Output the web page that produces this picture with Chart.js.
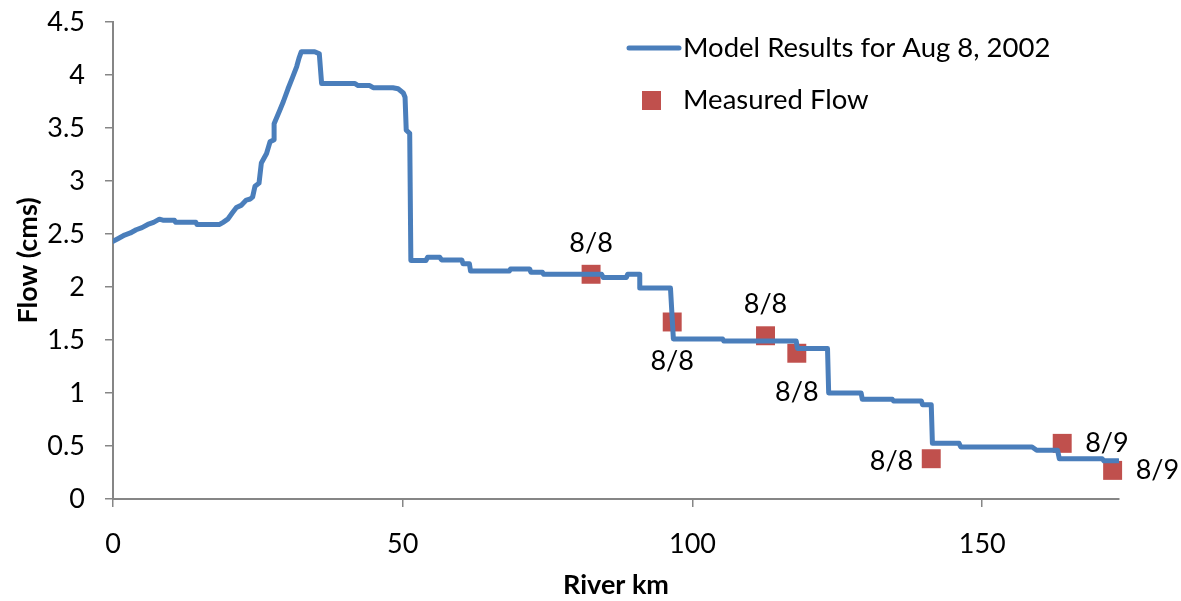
<!DOCTYPE html>
<html>
<head>
<meta charset="utf-8">
<script src="https://cdn.jsdelivr.net/npm/chart.js@4"></script>
<style>
  html, body { margin: 0; padding: 0; background: #fff; }
  #grafico { display: block; }
</style>
</head>
<body>
<canvas id="grafico" width="1181" height="601"></canvas>
<script>
// model run, river km vs flow (step profile, two points per step)
const modelKm = [
  0, 1, 2, 3, 4, 5, 6, 7, 8.0, 8.6, 10.6, 10.8, 14.3, 14.5, 18.4, 19.0, 19.8, 20.6,
  21.3, 22.1, 23.0, 23.7, 24.1, 24.5, 25.2, 25.6, 26.5, 27.1, 27.8, 27.8, 28.8, 29.4,
  30.2, 31.0, 31.7, 32.1, 32.5, 34.8, 35.6, 36.0, 41.7, 42.3, 44.3, 44.9, 48.3, 49.2,
  50.1, 50.4, 50.6, 51.2, 51.4, 54.0, 54.3, 56.4, 56.7, 60.2, 60.4, 61.5, 61.7, 68.4,
  68.6, 71.9, 72.1, 74.1, 74.3, 84.3, 84.6, 88.6, 88.8, 90.9, 90.9, 96.2, 96.7, 105.2,
  105.4, 117.9, 118.1, 123.3, 123.5, 129.1, 129.3, 134.5, 134.7, 139.5, 139.7, 141.2,
  141.4, 146.0, 146.3, 158.6, 159.4, 163.0, 163.3, 170.7, 171.0, 173.5
];
const modelFlow = [
  2.43, 2.46, 2.49, 2.51, 2.54, 2.56, 2.59, 2.61, 2.64, 2.63, 2.63, 2.61, 2.61, 2.59, 2.59, 2.61, 2.64, 2.70,
  2.75, 2.77, 2.82, 2.83, 2.85, 2.95, 2.98, 3.17, 3.26, 3.37, 3.39, 3.54, 3.67, 3.75,
  3.87, 3.98, 4.08, 4.16, 4.22, 4.22, 4.20, 3.92, 3.92, 3.90, 3.90, 3.88, 3.88, 3.87,
  3.83, 3.79, 3.48, 3.45, 2.25, 2.25, 2.28, 2.28, 2.255, 2.255, 2.22, 2.22, 2.15, 2.15,
  2.17, 2.17, 2.14, 2.14, 2.12, 2.12, 2.09, 2.09, 2.12, 2.12, 1.99, 1.99, 1.51, 1.51,
  1.49, 1.49, 1.42, 1.42, 1.00, 1.00, 0.94, 0.94, 0.925, 0.925, 0.89, 0.89,
  0.525, 0.525, 0.49, 0.49, 0.46, 0.46, 0.38, 0.38, 0.36, 0.36
];

// field measurements
const medidoKm = [82.5, 96.5, 112.6, 118.0, 141.2, 163.8, 172.5];
const medidoFlow = [2.12, 1.67, 1.54, 1.375, 0.38, 0.525, 0.27];
const medidoData = ["8/8", "8/8", "8/8", "8/8", "8/8", "8/9", "8/9"];
// where each date label sits relative to its marker
const ladoRotulo = ["acima", "abaixo", "acima", "abaixo", "esquerda", "direita", "direita"];

const xTicks = [0, 50, 100, 150];

const azul = "#4a7ebb";
const vermelho = "#c0504d";
const cinza = "#868686";
const fonte = "Lato, 'Liberation Sans', sans-serif";

const linhaModelo = modelKm.map((km, i) => ({ x: km, y: modelFlow[i] }));
const pontosMedidos = medidoKm.map((km, i) => ({ x: km, y: medidoFlow[i] }));

// date labels next to the measured points + the legend box
const rotulos = {
  id: "rotulos",
  afterDatasetsDraw(chart) {
    const ctx = chart.ctx;
    const meta = chart.getDatasetMeta(1);
    ctx.save();
    ctx.fillStyle = "#000";
    ctx.font = "27px " + fonte;
    meta.data.forEach((p, i) => {
      const lado = ladoRotulo[i];
      if (lado === "acima") {
        ctx.textAlign = "center"; ctx.textBaseline = "middle";
        ctx.fillText(medidoData[i], p.x, p.y - 31);
      } else if (lado === "abaixo") {
        ctx.textAlign = "center"; ctx.textBaseline = "middle";
        ctx.fillText(medidoData[i], p.x, p.y + 39);
      } else if (lado === "esquerda") {
        ctx.textAlign = "right"; ctx.textBaseline = "middle";
        ctx.fillText(medidoData[i], p.x - 18, p.y + 3);
      } else {
        ctx.textAlign = "left"; ctx.textBaseline = "middle";
        ctx.fillText(medidoData[i], p.x + 23, p.y);
      }
    });

    // legend
    ctx.strokeStyle = azul;
    ctx.lineWidth = 5;
    ctx.lineCap = "round";
    ctx.beginPath();
    ctx.moveTo(629, 48);
    ctx.lineTo(679, 48);
    ctx.stroke();
    ctx.fillStyle = vermelho;
    ctx.fillRect(642, 91, 19, 19);
    ctx.fillStyle = "#000";
    ctx.textAlign = "left";
    ctx.textBaseline = "middle";
    ctx.font = "27.5px " + fonte;
    ctx.fillText(chart.data.datasets[0].label, 683, 48);
    ctx.fillText(chart.data.datasets[1].label, 683, 100);
    ctx.restore();
  }
};

new Chart(document.getElementById("grafico"), {
  type: "scatter",
  data: {
    datasets: [
      {
        label: "Model Results for Aug 8, 2002",
        data: linhaModelo,
        showLine: true,
        borderColor: azul,
        borderWidth: 5,
        borderJoinStyle: "round",
        borderCapStyle: "round",
        pointRadius: 0,
        tension: 0
      },
      {
        label: "Measured Flow",
        data: pontosMedidos,
        pointStyle: "rect",
        pointRadius: 13.4,
        pointBackgroundColor: vermelho,
        pointBorderColor: vermelho,
        pointBorderWidth: 0,
        clip: false
      }
    ]
  },
  options: {
    responsive: false,
    animation: false,
    layout: { padding: { top: 22, right: 62, left: 0, bottom: 0 } },
    plugins: {
      legend: { display: false },
      tooltip: { enabled: false }
    },
    scales: {
      x: {
        type: "linear",
        min: 0,
        max: 173.6,
        afterFit: (s) => { s.height = 102; s.paddingLeft = 0; s.paddingRight = 0; },
        afterBuildTicks: (s) => { s.ticks = xTicks.map(v => ({ value: v })); },
        border: { color: cinza, width: 2 },
        grid: { drawOnChartArea: false, drawTicks: true, tickLength: 8, color: cinza, lineWidth: 1.5 },
        ticks: { color: "#000", font: { family: fonte, size: 27 }, padding: 21, maxRotation: 0 },
        title: { display: true, text: "River km", color: "#000", font: { family: fonte, size: 27, weight: "bold" }, padding: { top: 0, bottom: 0 } }
      },
      y: {
        min: 0,
        max: 4.5,
        afterFit: (s) => { s.width = 113; s.paddingTop = 0; s.paddingBottom = 0; },
        border: { color: cinza, width: 2 },
        grid: { drawOnChartArea: false, drawTicks: true, tickLength: 8, color: cinza, lineWidth: 1.5 },
        ticks: { stepSize: 0.5, color: "#000", font: { family: fonte, size: 27 }, padding: 20, callback: (v) => String(v) },
        title: { display: true, text: "Flow (cms)", color: "#000", font: { family: fonte, size: 27, weight: "bold" }, padding: { top: 12, bottom: 0 } }
      }
    }
  },
  plugins: [rotulos]
});
</script>
</body>
</html>
